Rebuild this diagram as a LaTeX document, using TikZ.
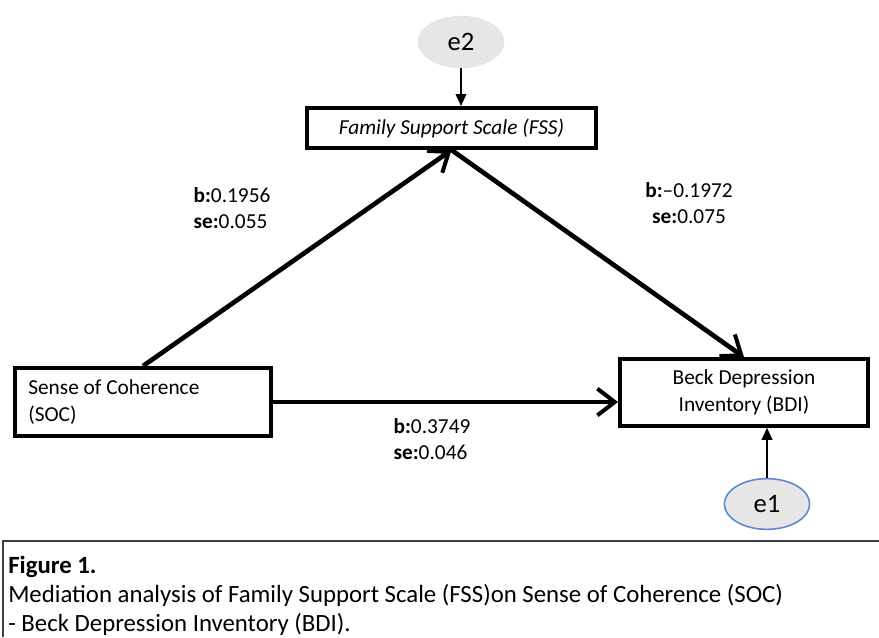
\documentclass[tikz,border=0pt]{standalone}
\usepackage{fontspec}
\setmainfont{Carlito}
\usetikzlibrary{arrows.meta, positioning, shapes.geometric, calc}

\definecolor{errfill}{HTML}{E6E6E6}
\definecolor{errblue}{HTML}{5B8BD6}
\definecolor{errpale}{HTML}{DCE6F4}
\definecolor{capline}{HTML}{404040}

\begin{document}
\begin{tikzpicture}[
    x=0.75pt, y=-0.75pt,
    varbox/.style={draw, line width=3pt, minimum height=30pt,
                   font=\fontsize{16}{20.5}\selectfont, inner sep=2pt},
    errnode/.style={ellipse, fill=errfill, line width=1.2pt,
                    minimum width=64pt, minimum height=38pt,
                    font=\fontsize{20}{22}\selectfont},
    path/.style={line width=3.5pt,
                 -{Straight Barb[length=13pt, width=20pt, line width=3pt]}},
    errpath/.style={line width=1.2pt, -{Triangle[length=9pt, width=8pt]}},
    coef/.style={font=\fontsize{16}{20}\selectfont}
  ]
  \useasboundingbox (0,0) rectangle (879,637);

  % variables
  \node[varbox, minimum width=217pt, font=\fontsize{16}{18}\selectfont\itshape]
    (fss) at (451.5,128) {Family Support Scale (FSS)};
  \node[varbox, minimum width=192pt, minimum height=51pt, align=flush left,
        text width=172pt, inner xsep=8pt] (soc) at (143,402)
    {Sense of Coherence\\(SOC)};
  \node[varbox, minimum width=186pt, minimum height=50pt, align=center]
    (bdi) at (744,392.5) {Beck Depression\\Inventory (BDI)};

  % error terms
  \node[errnode, draw=errpale] (e2) at (461,42) {e2};
  \node[errnode, draw=errblue] (e1) at (767,504) {e1};

  \draw[errpath] (e2) -- (e2 |- fss.north);
  \draw[errpath] (e1) -- (e1 |- bdi.south);

  % paths
  \draw[path] (soc.north) -- (fss.south);
  \draw[path] (fss.south) -- (bdi.north);
  \draw[path] (soc.east) -- (soc.east -| bdi.west);

  \node[coef, align=left] (ca) at (232,208) {\textbf{b:}0.1956\\\textbf{se:}0.055};
  \node[coef, align=center] (cb) at (689,203) {\textbf{b:}--0.1972\\\textbf{se:}0.075};
  \node[coef, align=left] (cc) at (432,439) {\textbf{b:}0.3749\\\textbf{se:}0.046};

  % caption
  \draw[capline, line width=1.5pt] (3,637) |- (879,541);
  \node[anchor=north west, align=left, inner sep=0pt,
        font=\fontsize{18.6}{21.6}\selectfont] (cap) at (8,556)
    {\textbf{Figure 1.}\\
     Mediation analysis of Family Support Scale (FSS)on Sense of Coherence (SOC)\\
     - Beck Depression Inventory (BDI).};
\end{tikzpicture}
\end{document}
